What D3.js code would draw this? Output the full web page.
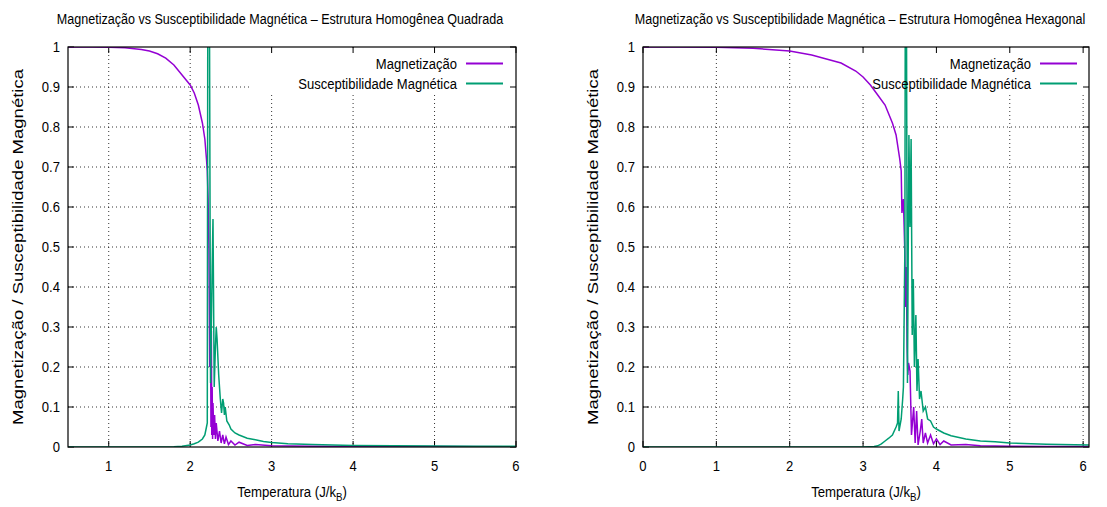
<!DOCTYPE html>
<html>
<head>
<meta charset="utf-8">
<script src="https://cdn.jsdelivr.net/npm/d3@7"></script>
<style>
  html, body { margin: 0; padding: 0; background: #fff; }
  svg { display: block; }
</style>
</head>
<body>
<script>
// ---- data ----
var yTicks = [0, 0.1, 0.2, 0.3, 0.4, 0.5, 0.6, 0.7, 0.8, 0.9, 1];
var xTicksQuad = [1, 2, 3, 4, 5, 6];
var xTicksHex = [0, 1, 2, 3, 4, 5, 6];
var legendLabels = ["Magnetização", "Susceptibilidade Magnética"];

// square lattice
var magTempQuad = [0.5, 0.8, 1.0, 1.2, 1.4, 1.5, 1.6, 1.7, 1.8, 1.9, 2.0, 2.05, 2.1, 2.15, 2.18, 2.2, 2.21, 2.22,
  2.23, 2.24, 2.25, 2.255, 2.26, 2.265, 2.27, 2.275, 2.28, 2.29, 2.30, 2.31, 2.32, 2.34, 2.36, 2.38, 2.40,
  2.42, 2.44, 2.47, 2.50, 2.55, 2.60, 2.70, 2.80, 3.0, 3.5, 4.0, 5.0, 6.0];
var magQuad = [1.0, 0.9998, 0.9993, 0.998, 0.994, 0.99, 0.983, 0.972, 0.955, 0.93, 0.905, 0.885, 0.855, 0.81, 0.77, 0.72, 0.69, 0.62,
  0.50, 0.20, 0.33, 0.05, 0.29, 0.03, 0.15, 0.02, 0.11, 0.03, 0.08, 0.02, 0.06, 0.015, 0.04, 0.01, 0.03,
  0.008, 0.025, 0.006, 0.015, 0.005, 0.012, 0.004, 0.006, 0.003, 0.002, 0.001, 0.001, 0.0008];
var chiTempQuad = [0.5, 1.5, 1.8, 1.9, 2.0, 2.05, 2.1, 2.15, 2.18, 2.2, 2.21, 2.22, 2.235, 2.25, 2.27, 2.28, 2.295,
  2.31, 2.32, 2.33, 2.35, 2.37, 2.385, 2.40, 2.41, 2.42, 2.43, 2.45, 2.48, 2.5, 2.55, 2.6, 2.7, 2.8, 2.9, 3.0,
  3.2, 3.5, 4.0, 4.5, 5.0, 5.5, 6.0];
var chiQuad = [0, 0, 0.0005, 0.002, 0.005, 0.008, 0.012, 0.02, 0.03, 0.05, 0.06, 1.8, 1.2, 0.16, 0.45, 0.57, 0.15,
  0.25, 0.30, 0.27, 0.18, 0.12, 0.085, 0.12, 0.11, 0.08, 0.10, 0.065, 0.055, 0.045, 0.035, 0.03, 0.022, 0.018, 0.014, 0.011,
  0.008, 0.006, 0.004, 0.003, 0.0025, 0.002, 0.0018];

// hexagonal lattice
var magTempHex = [0, 0.5, 1.0, 1.5, 2.0, 2.3, 2.5, 2.7, 2.9, 3.0, 3.1, 3.2, 3.3, 3.4, 3.45, 3.5, 3.52, 3.53,
  3.55, 3.57, 3.58, 3.59, 3.60, 3.61, 3.62, 3.64, 3.66, 3.69, 3.71, 3.73, 3.75, 3.78, 3.80, 3.82, 3.85,
  3.88, 3.92, 3.96, 4.0, 4.05, 4.1, 4.2, 4.4, 4.6, 5.0, 5.5, 6.08];
var magHex = [1.0, 1.0, 0.9995, 0.997, 0.99, 0.98, 0.97, 0.96, 0.94, 0.925, 0.905, 0.88, 0.855, 0.81, 0.78, 0.72, 0.69, 0.585,
  0.62, 0.48, 0.35, 0.45, 0.25, 0.18, 0.21, 0.19, 0.03, 0.10, 0.01, 0.09, 0.005, 0.04, 0.07, 0.01, 0.035,
  0.01, 0.03, 0.008, 0.02, 0.006, 0.015, 0.005, 0.006, 0.003, 0.002, 0.0015, 0.001];
var chiTempHex = [0, 3.0, 3.15, 3.2, 3.25, 3.3, 3.35, 3.4, 3.45, 3.47, 3.48, 3.49, 3.52, 3.54, 3.55, 3.57, 3.58, 3.59,
  3.605, 3.625, 3.64, 3.655, 3.67, 3.685, 3.70, 3.72, 3.735, 3.75, 3.77, 3.79, 3.82, 3.85, 3.88, 3.92, 3.96,
  4.0, 4.1, 4.2, 4.4, 4.6, 4.8, 5.0, 5.5, 6.08];
var chiHex = [0, 0, 0.001, 0.003, 0.008, 0.015, 0.022, 0.03, 0.05, 0.06, 0.14, 0.04, 0.07, 0.12, 0.15, 0.5, 1.6, 1.2,
  0.16, 0.78, 0.55, 0.77, 0.28, 0.42, 0.20, 0.33, 0.14, 0.22, 0.12, 0.14, 0.09, 0.10, 0.07, 0.065, 0.05,
  0.045, 0.035, 0.028, 0.02, 0.015, 0.013, 0.01, 0.007, 0.005];

var colors = { mag: "#9400d3", chi: "#009e73" };

var svg = d3.select("body").append("svg")
  .attr("width", 1107)
  .attr("height", 507)
  .style("font-family", "'Liberation Sans', Arial, sans-serif");

var translate = function(x, y) {
  return "translate(" + x + ", " + y + ") ";
};

// gnuplot's font here is a condensed helvetica, squeeze horizontally
var narrowText = function(g, x, y, anchor, size, k) {
  return g.append("text")
    .attr("transform", translate(x, y) + "scale(" + k + ", 1)")
    .attr("text-anchor", anchor)
    .style("font-size", size + "px");
};

var drawPanel = function(p) {
  var x = d3.scaleLinear().domain(p.xDomain).range([p.left, p.right]);
  var y = d3.scaleLinear().domain([0, 1]).range([447, 47]);
  var g = svg.append("g");

  // grid
  g.selectAll(".vgrid").data(p.xTicks.filter(function(d) { return d > p.xDomain[0] && d < p.xDomain[1]; }))
    .enter().append("line")
    .attr("x1", function(d) { return x(d); }).attr("x2", function(d) { return x(d); })
    .attr("y1", 47).attr("y2", 447)
    .style("stroke", "#000").style("stroke-width", 0.8).style("stroke-dasharray", "1,3");
  g.selectAll(".hgrid").data(yTicks.slice(1, -1))
    .enter().append("line")
    .attr("x1", p.left).attr("x2", p.right)
    .attr("y1", function(d) { return y(d); }).attr("y2", function(d) { return y(d); })
    .style("stroke", "#000").style("stroke-width", 0.8).style("stroke-dasharray", "1,3");

  // key area keeps the grid out
  g.append("rect")
    .attr("x", p.keyLeft).attr("y", 48)
    .attr("width", p.right - p.keyLeft - 1).attr("height", 44)
    .style("fill", "#fff");

  // ticks on all four sides
  var tick = 6;
  p.xTicks.forEach(function(d) {
    g.append("line").attr("x1", x(d)).attr("x2", x(d)).attr("y1", 447).attr("y2", 447 - tick)
      .style("stroke", "#000");
    g.append("line").attr("x1", x(d)).attr("x2", x(d)).attr("y1", 47).attr("y2", 47 + tick)
      .style("stroke", "#000");
    narrowText(g, x(d), 471, "middle", 15, 0.87).text(d);
  });
  yTicks.forEach(function(d) {
    g.append("line").attr("x1", p.left).attr("x2", p.left + tick).attr("y1", y(d)).attr("y2", y(d))
      .style("stroke", "#000");
    g.append("line").attr("x1", p.right).attr("x2", p.right - tick).attr("y1", y(d)).attr("y2", y(d))
      .style("stroke", "#000");
    narrowText(g, p.left - 8, y(d) + 5, "end", 15, 0.87).text(d3.format("~g")(d));
  });

  // curves
  var clipId = "clip" + p.name;
  svg.append("clipPath").attr("id", clipId).append("rect")
    .attr("x", p.left).attr("y", 47).attr("width", p.right - p.left).attr("height", 400);

  var line = d3.line()
    .x(function(d) { return x(d[0]); })
    .y(function(d) { return y(d[1]); });

  g.append("path")
    .datum(d3.zip(p.magT, p.mag))
    .attr("d", line)
    .attr("clip-path", "url(#" + clipId + ")")
    .style("fill", "none").style("stroke", colors.mag).style("stroke-width", 1.5);
  g.append("path")
    .datum(d3.zip(p.chiT, p.chi))
    .attr("d", line)
    .attr("clip-path", "url(#" + clipId + ")")
    .style("fill", "none").style("stroke", colors.chi).style("stroke-width", 1.5);

  // border
  g.append("rect")
    .attr("x", p.left).attr("y", 47).attr("width", p.right - p.left).attr("height", 400)
    .style("fill", "none").style("stroke", "#000").style("stroke-width", 1.2);

  // key
  [colors.mag, colors.chi].forEach(function(c, i) {
    var ky = 63.5 + i * 20;
    narrowText(g, p.keyText, ky + 5, "end", 15, 0.87).text(legendLabels[i]);
    g.append("line").attr("x1", p.keyText + 9).attr("x2", p.keyText + 46)
      .attr("y1", ky).attr("y2", ky)
      .style("stroke", c).style("stroke-width", 2);
  });

  // titles
  narrowText(g, p.titleX, 24, "middle", 15.5, 0.81).text(p.title);

  var xl = narrowText(g, (p.left + p.right) / 2, 497, "middle", 15, 0.88);
  xl.append("tspan").text("Temperatura (J/k");
  xl.append("tspan").attr("dy", 4).style("font-size", "11px").text("B");
  xl.append("tspan").attr("dy", -4).text(")");

  g.append("text")
    .attr("transform", translate(p.left - 45, 247) + "rotate(-90)")
    .attr("text-anchor", "middle")
    .attr("textLength", 356)
    .attr("lengthAdjust", "spacingAndGlyphs")
    .style("font-size", "14.5px")
    .text("Magnetização / Susceptibilidade Magnética");
};

drawPanel({
  name: "quad", left: 68, right: 516, xDomain: [0.5, 6], xTicks: xTicksQuad,
  magT: magTempQuad, mag: magQuad, chiT: chiTempQuad, chi: chiQuad,
  keyLeft: 252, keyText: 457, titleX: 280,
  title: "Magnetização vs Susceptibilidade Magnética – Estrutura Homogênea Quadrada"
});

drawPanel({
  name: "hex", left: 643, right: 1089, xDomain: [0, 6.08], xTicks: xTicksHex,
  magT: magTempHex, mag: magHex, chiT: chiTempHex, chi: chiHex,
  keyLeft: 828, keyText: 1031, titleX: 860,
  title: "Magnetização vs Susceptibilidade Magnética – Estrutura Homogênea Hexagonal"
});
</script>
</body>
</html>
